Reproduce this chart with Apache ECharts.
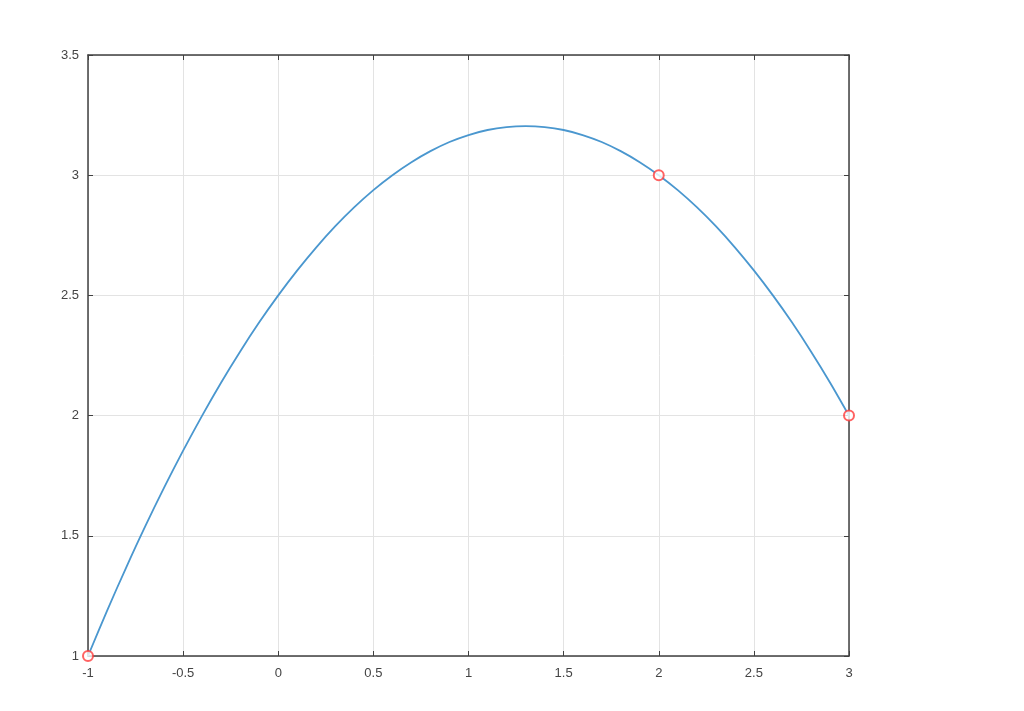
<!DOCTYPE html>
<html>
<head>
<meta charset="utf-8">
<script src="https://cdn.jsdelivr.net/npm/echarts@6/dist/echarts.min.js"></script>
<style>html,body{margin:0;padding:0;background:#fff;}#c{width:1024px;height:711px;}</style>
</head>
<body>
<div id="c"></div>
<script>
// Curve points (x, y)
const curveX = [-1,-0.9,-0.8,-0.7,-0.6,-0.5,-0.4,-0.3,-0.2,-0.1,0,0.1,0.2,0.3,0.4,0.5,0.6,0.7,0.8,0.9,1.0,1.1,1.2,1.3,1.4,1.5,1.6,1.7,1.8,1.9,2.0,2.1,2.2,2.3,2.4,2.5,2.6,2.7,2.8,2.9,3.0];
const curveY = [1.000,1.188,1.367,1.538,1.700,1.854,2.000,2.138,2.267,2.388,2.500,2.604,2.700,2.788,2.867,2.938,3.000,3.054,3.100,3.138,3.167,3.188,3.200,3.204,3.200,3.188,3.167,3.138,3.100,3.054,3.000,2.938,2.867,2.788,2.700,2.604,2.500,2.388,2.267,2.138,2.000];
// Marked points
const markX = [-1, 2, 3];
const markY = [1, 3, 2];

const curveData = curveX.map((x, i) => [x, curveY[i]]);
const markData = markX.map((x, i) => [x, markY[i]]);

const axisColor = '#404040';
const labelStyle = { color: '#444', fontSize: 13, fontFamily: 'Liberation Sans, Arial, sans-serif' };
const chart = echarts.init(document.getElementById('c'));
chart.setOption({
  animation: false,
  grid: { left: 88, top: 55, width: 761, height: 601, containLabel: false },
  xAxis: [
    { type: 'value', min: -1, max: 3, interval: 0.5, position: 'bottom',
      axisLine: { show: true, onZero: false, lineStyle: { color: axisColor, width: 1.5 } },
      axisTick: { show: true, inside: true, length: 5, lineStyle: { color: axisColor } },
      axisLabel: Object.assign({ margin: 11 }, labelStyle),
      splitLine: { show: true, lineStyle: { color: '#e3e3e3', width: 1 } } },
    { type: 'value', min: -1, max: 3, interval: 0.5, position: 'top',
      axisLine: { show: true, onZero: false, lineStyle: { color: axisColor, width: 1.5 } },
      axisTick: { show: true, inside: true, length: 5, lineStyle: { color: axisColor } },
      axisLabel: { show: false }, splitLine: { show: false } }
  ],
  yAxis: [
    { type: 'value', min: 1, max: 3.5, interval: 0.5, position: 'left',
      axisLine: { show: true, onZero: false, lineStyle: { color: axisColor, width: 1.5 } },
      axisTick: { show: true, inside: true, length: 5, lineStyle: { color: axisColor } },
      axisLabel: Object.assign({ margin: 9 }, labelStyle),
      splitLine: { show: true, lineStyle: { color: '#e3e3e3', width: 1 } } },
    { type: 'value', min: 1, max: 3.5, interval: 0.5, position: 'right',
      axisLine: { show: true, onZero: false, lineStyle: { color: axisColor, width: 1.5 } },
      axisTick: { show: true, inside: true, length: 5, lineStyle: { color: axisColor } },
      axisLabel: { show: false }, splitLine: { show: false } }
  ],
  series: [
    { type: 'line', data: curveData, smooth: 0.3, showSymbol: false,
      lineStyle: { color: '#4a97cf', width: 1.8 }, z: 3 },
    { type: 'scatter', data: markData, symbol: 'emptyCircle', symbolSize: 10, clip: false,
      itemStyle: { color: '#ff3b3b', borderColor: '#ff3b3b', borderWidth: 1.5 }, z: 4 }
  ]
});
</script>
</body>
</html>
